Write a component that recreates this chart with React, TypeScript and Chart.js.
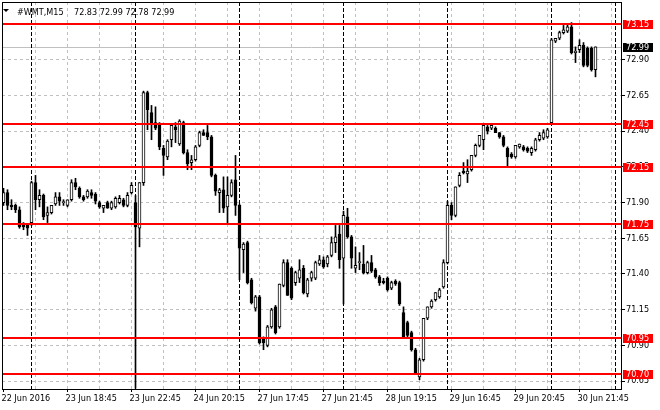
import React, { useEffect, useRef } from 'react';
import { Chart, registerables } from 'chart.js';

Chart.register(...registerables);

// ---- data: WMT M15 candles (22 Jun 2016 – 30 Jun 2016) ----
const OPEN = [
  71.90, 71.97, 71.88, 71.88, 71.85, 71.74, 71.74, 71.76, 72.04, 71.92,
  71.95, 71.81, 71.83, 71.89, 71.94, 71.90, 71.88, 71.92, 72.04, 72.00,
  71.94, 71.94, 71.97, 71.96, 71.90, 71.86, 71.90, 71.86, 71.87, 71.90,
  71.92, 71.88, 71.97, 71.90, 71.72, 72.04, 72.67, 72.53, 72.46, 72.44,
  72.28, 72.22, 72.34, 72.43, 72.31, 72.46, 72.25, 72.18, 72.20, 72.30,
  72.39, 72.39, 72.36, 72.09, 71.97, 71.99, 71.87, 71.95, 72.06, 71.88,
  71.57, 71.62, 71.36, 71.16, 71.24, 70.95, 70.90, 71.03, 71.17, 71.03,
  71.32, 71.48, 71.44, 71.34, 71.37, 71.44, 71.26, 71.37, 71.37, 71.47,
  71.50, 71.47, 71.53, 71.62, 71.68, 71.51, 71.80, 71.66, 71.44, 71.48,
  71.47, 71.41, 71.48, 71.43, 71.38, 71.35, 71.37, 71.30, 71.35, 71.34,
  71.13, 71.06, 70.99, 70.87, 70.68, 70.80, 71.09, 71.17, 71.22, 71.24,
  71.31, 71.48, 71.88, 71.81, 72.02, 72.12, 72.10, 72.13, 72.23, 72.30,
  72.34, 72.43, 72.42, 72.42, 72.39, 72.36, 72.28, 72.24, 72.22, 72.29,
  72.29, 72.28, 72.25, 72.27, 72.34, 72.35, 72.36, 72.46, 73.03, 73.05,
  73.09, 73.10, 73.13, 72.95, 72.97, 73.00, 72.98, 72.98, 72.83,
];
const HIGH = [
  72.00, 71.99, 71.92, 71.89, 71.87, 71.76, 71.75, 72.05, 72.09, 71.99,
  71.96, 71.87, 71.88, 71.97, 71.97, 71.92, 71.92, 72.06, 72.07, 72.01,
  71.95, 71.99, 71.99, 71.97, 71.91, 71.88, 71.91, 71.91, 71.94, 71.95,
  71.93, 71.97, 72.04, 71.95, 72.04, 72.68, 72.68, 72.58, 72.57, 72.46,
  72.30, 72.34, 72.45, 72.46, 72.48, 72.47, 72.27, 72.23, 72.30, 72.40,
  72.41, 72.44, 72.37, 72.10, 72.00, 72.08, 72.08, 72.06, 72.23, 71.89,
  71.62, 71.63, 71.37, 71.25, 71.25, 70.96, 71.04, 71.16, 71.18, 71.33,
  71.50, 71.50, 71.45, 71.42, 71.50, 71.46, 71.37, 71.42, 71.49, 71.53,
  71.52, 71.53, 71.66, 71.74, 71.74, 71.84, 71.86, 71.67, 71.59, 71.55,
  71.60, 71.49, 71.53, 71.44, 71.39, 71.37, 71.38, 71.35, 71.36, 71.35,
  71.17, 71.07, 71.00, 70.88, 70.81, 71.09, 71.17, 71.22, 71.27, 71.30,
  71.50, 71.91, 71.90, 72.01, 72.11, 72.18, 72.20, 72.23, 72.31, 72.37,
  72.45, 72.44, 72.45, 72.43, 72.39, 72.37, 72.29, 72.25, 72.30, 72.31,
  72.30, 72.29, 72.29, 72.35, 72.39, 72.41, 72.42, 73.05, 73.05, 73.10,
  73.14, 73.15, 73.16, 72.99, 73.04, 73.02, 72.99, 72.99, 72.99,
];
const LOW = [
  71.88, 71.85, 71.85, 71.83, 71.72, 71.71, 71.67, 71.74, 71.85, 71.87,
  71.78, 71.76, 71.82, 71.88, 71.88, 71.88, 71.87, 71.91, 71.99, 71.93,
  71.91, 71.93, 71.93, 71.89, 71.86, 71.83, 71.86, 71.85, 71.86, 71.89,
  71.87, 71.87, 71.96, 70.60, 71.59, 72.02, 72.41, 72.34, 72.41, 72.27,
  72.09, 72.20, 72.29, 72.32, 72.30, 72.24, 72.13, 72.13, 72.19, 72.29,
  72.37, 72.34, 72.08, 71.95, 71.83, 71.83, 71.75, 71.94, 71.81, 71.36,
  71.41, 71.33, 71.19, 71.14, 70.91, 70.87, 70.89, 71.02, 70.98, 71.02,
  71.31, 71.25, 71.22, 71.32, 71.34, 71.26, 71.24, 71.35, 71.36, 71.46,
  71.44, 71.45, 71.52, 71.55, 71.44, 71.19, 71.65, 71.44, 71.41, 71.43,
  71.40, 71.40, 71.41, 71.37, 71.32, 71.33, 71.28, 71.29, 71.32, 71.18,
  70.95, 70.96, 70.86, 70.70, 70.66, 70.79, 71.08, 71.16, 71.21, 71.23,
  71.30, 71.47, 71.78, 71.80, 72.01, 72.10, 72.04, 72.12, 72.22, 72.29,
  72.27, 72.38, 72.41, 72.39, 72.35, 72.29, 72.15, 72.21, 72.21, 72.28,
  72.26, 72.25, 72.23, 72.26, 72.33, 72.34, 72.35, 72.45, 73.02, 73.04,
  73.08, 73.09, 72.94, 72.88, 72.95, 72.85, 72.85, 72.82, 72.78,
];
const CLOSE = [
  71.97, 71.88, 71.87, 71.85, 71.73, 71.73, 71.72, 72.04, 71.92, 71.95,
  71.80, 71.83, 71.88, 71.94, 71.91, 71.90, 71.92, 72.04, 72.01, 71.94,
  71.92, 71.98, 71.95, 71.91, 71.87, 71.88, 71.86, 71.90, 71.93, 71.93,
  71.88, 71.95, 72.02, 71.73, 72.04, 72.67, 72.55, 72.46, 72.42, 72.29,
  72.23, 72.33, 72.44, 72.41, 72.47, 72.25, 72.17, 72.20, 72.29, 72.39,
  72.37, 72.36, 72.09, 71.98, 71.99, 71.86, 71.95, 72.04, 71.88, 71.58,
  71.61, 71.34, 71.20, 71.24, 70.92, 70.92, 71.03, 71.15, 70.99, 71.33,
  71.48, 71.25, 71.23, 71.41, 71.43, 71.27, 71.36, 71.41, 71.48, 71.50,
  71.45, 71.52, 71.62, 71.66, 71.50, 71.81, 71.66, 71.51, 71.46, 71.48,
  71.41, 71.48, 71.42, 71.38, 71.34, 71.34, 71.29, 71.34, 71.33, 71.19,
  70.96, 70.97, 70.87, 70.71, 70.80, 71.09, 71.17, 71.21, 71.27, 71.29,
  71.48, 71.88, 71.81, 72.01, 72.09, 72.11, 72.12, 72.23, 72.30, 72.37,
  72.44, 72.40, 72.44, 72.39, 72.36, 72.30, 72.22, 72.22, 72.30, 72.31,
  72.27, 72.26, 72.28, 72.34, 72.37, 72.39, 72.41, 73.04, 73.05, 73.09,
  73.11, 73.13, 72.95, 72.96, 73.00, 72.86, 72.86, 72.83, 72.99,
];

const SYMBOL = '#WMT,M15';
const LEVELS = [73.15, 72.45, 72.15, 71.75, 70.95, 70.70];
const SEPARATORS = [7, 33, 59, 85, 111, 137, 153];
const Y_TICKS = [70.65, 70.90, 71.15, 71.40, 71.65, 71.90, 72.15, 72.40, 72.65, 72.90];
const X_LABELS = [
  '22 Jun 2016', '23 Jun 18:45', '23 Jun 22:45', '24 Jun 20:15', '27 Jun 17:45',
  '27 Jun 21:45', '28 Jun 19:15', '29 Jun 16:45', '29 Jun 20:45', '30 Jun 21:45',
];

const FAMILY = "'DejaVu Sans Condensed', 'Liberation Sans', sans-serif";
const SIZE = 9;
const FONT = `${SIZE}px ${FAMILY}`;
const GRID = '#c0c0c0';

export default function App() {
  const ref = useRef<HTMLCanvasElement | null>(null);

  useEffect(() => {
    if (!ref.current) return;
    const idx = OPEN.map((_, i) => i);
    const bodies = idx.map((i) => ({ x: i, y: [OPEN[i], CLOSE[i]] }));
    const wicks = idx.map((i) => ({ x: i, y: [LOW[i], HIGH[i]] }));
    const bodyColors = idx.map((i) => (CLOSE[i] >= OPEN[i] ? '#ffffff' : '#000000'));
    const last = OPEN.length - 1;

    const overlay = {
      id: 'mt4overlay',
      beforeDraw(chart: any) {
        const c = chart.ctx;
        c.save();
        c.fillStyle = '#ffffff';
        c.fillRect(0, 0, chart.width, chart.height);
        c.restore();
      },
      beforeDatasetsDraw(chart: any) {
        const c = chart.ctx;
        const a = chart.chartArea;
        const xs = chart.scales.x;
        const ys = chart.scales.y;
        c.save();
        // current price line
        const py = Math.round(ys.getPixelForValue(CLOSE[last])) + 0.5;
        c.strokeStyle = GRID;
        c.lineWidth = 1;
        c.beginPath();
        c.moveTo(a.left, py);
        c.lineTo(a.right, py);
        c.stroke();
        // title
        c.fillStyle = '#000';
        c.beginPath();
        c.moveTo(3, 9);
        c.lineTo(9, 9);
        c.lineTo(6, 12);
        c.closePath();
        c.fill();
        c.font = FONT;
        c.textBaseline = 'alphabetic';
        c.textAlign = 'left';
        c.fillText(SYMBOL, 17, 15);
        c.fillText(
          [OPEN[last], HIGH[last], LOW[last], CLOSE[last]].map((v) => v.toFixed(2)).join(' '),
          74,
          15
        );
        // period separators
        c.strokeStyle = '#000';
        c.setLineDash([4, 2]);
        SEPARATORS.forEach((k) => {
          const px = Math.floor(xs.getPixelForValue(k)) + 0.5;
          c.beginPath();
          c.moveTo(px, a.top);
          c.lineTo(px, a.bottom);
          c.stroke();
        });
        c.restore();
      },
      afterDatasetsDraw(chart: any) {
        const c = chart.ctx;
        const a = chart.chartArea;
        const ys = chart.scales.y;
        c.save();
        // support / resistance levels
        c.strokeStyle = '#ff0000';
        c.lineWidth = 2;
        LEVELS.forEach((v) => {
          const y = Math.round(ys.getPixelForValue(v));
          c.beginPath();
          c.moveTo(a.left, y);
          c.lineTo(a.right, y);
          c.stroke();
        });
        // frame
        c.lineWidth = 1;
        c.strokeStyle = '#000';
        c.strokeRect(a.left + 0.5, a.top + 0.5, a.right - a.left, a.bottom - a.top);
        // price labels
        c.font = FONT;
        c.textAlign = 'left';
        c.textBaseline = 'middle';
        const tag = (v: number, bg: string) => {
          const y = Math.round(ys.getPixelForValue(v));
          c.fillStyle = bg;
          c.fillRect(a.right + 2, y - 4, 30, 9);
          c.fillStyle = '#ffffff';
          c.fillText(v.toFixed(2), a.right + 5, y + 0.5);
        };
        LEVELS.forEach((v) => tag(v, '#ff0000'));
        tag(CLOSE[last], '#000000');
        c.restore();
      },
    };

    const chart = new Chart(ref.current, {
      type: 'bar',
      data: {
        datasets: [
          {
            data: bodies as any,
            backgroundColor: bodyColors,
            borderColor: '#000000',
            borderWidth: 1,
            borderSkipped: false,
            barThickness: 3,
            minBarLength: 1,
            grouped: false,
            order: 0,
          } as any,
          {
            data: wicks as any,
            backgroundColor: '#000000',
            borderWidth: 0,
            barThickness: 1,
            grouped: false,
            order: 1,
          } as any,
        ],
      },
      options: {
        animation: false,
        responsive: false,
        maintainAspectRatio: false,
        layout: { padding: { left: 2, top: 2, right: 0, bottom: 0 } },
        plugins: { legend: { display: false }, tooltip: { enabled: false } },
        scales: {
          x: {
            type: 'linear',
            min: -0.375,
            max: 154.375,
            offset: false,
            afterFit: (s: any) => {
              s.height = 21;
              s.paddingLeft = 0;
              s.paddingRight = 0;
            },
            afterBuildTicks: (s: any) => {
              const t = [];
              for (let k = 0; k <= 152; k += 8) t.push({ value: k });
              s.ticks = t;
            },
            grid: {
              offset: false,
              color: (ctx: any) => (ctx.tick && ctx.tick.value === 0 ? 'rgba(0,0,0,0)' : GRID),
              tickColor: (ctx: any) => (ctx.tick && ctx.tick.value % 16 === 0 ? '#000' : 'rgba(0,0,0,0)'),
              tickLength: 3,
              tickBorderDash: [],
              lineWidth: 1,
            },
            border: { display: false, dash: [3, 3] },
            ticks: {
              autoSkip: false,
              maxRotation: 0,
              minRotation: 0,
              align: 'start',
              labelOffset: -2,
              padding: 1,
              color: '#000',
              font: { family: FAMILY, size: SIZE },
              callback: (v: any) => {
                const k = Number(v);
                return k % 16 === 0 ? X_LABELS[k / 16] ?? '' : '';
              },
            },
          } as any,
          y: {
            type: 'linear',
            position: 'right',
            min: 70.595,
            max: 73.304,
            afterFit: (s: any) => {
              s.width = 39;
              s.paddingTop = 0;
              s.paddingBottom = 0;
            },
            afterBuildTicks: (s: any) => {
              s.ticks = Y_TICKS.map((v) => ({ value: v }));
            },
            grid: {
              color: GRID,
              tickColor: '#000',
              tickLength: 4,
              tickBorderDash: [],
              lineWidth: 1,
            },
            border: { display: false, dash: [3, 3] },
            ticks: {
              padding: 1,
              color: '#000',
              font: { family: FAMILY, size: SIZE },
              callback: (v: any) => Number(v).toFixed(2),
            },
          } as any,
        },
      },
      plugins: [overlay],
    });

    return () => chart.destroy();
  }, []);

  return (
    <div style={{ position: 'absolute', left: 0, top: 0, width: 660, height: 410, background: '#fff' }}>
      <canvas ref={ref} width={660} height={410} style={{ display: 'block' }} />
    </div>
  );
}
